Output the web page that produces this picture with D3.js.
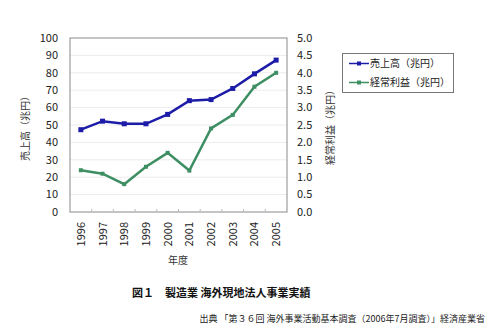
<!DOCTYPE html>
<html><head><meta charset="utf-8">
<script src="https://cdn.jsdelivr.net/npm/d3@7"></script>
<style>body{margin:0;background:#fff}svg{display:block}</style>
</head><body><svg id="c" width="500" height="330"></svg>
<script>
const years = ["1996","1997","1998","1999","2000","2001","2002","2003","2004","2005"];
const sales = [47.3, 52.2, 50.7, 50.7, 56.1, 64.0, 64.6, 71.0, 79.4, 87.3];
const profit = [1.20, 1.10, 0.80, 1.30, 1.70, 1.19, 2.40, 2.79, 3.60, 4.00];
const leftTicks = [0,10,20,30,40,50,60,70,80,90,100];
const rightTicks = [0,0.5,1,1.5,2,2.5,3,3.5,4,4.5,5];
const seriesNames = ["売上高（兆円）","経常利益（兆円）"];

const font = "'Noto Sans CJK JP', sans-serif";
const svg = d3.select("#c");
const L=70, R=287, T=38, B=212;
const x = d3.scalePoint().domain(years).range([L,R]).padding(0.5);
const yL = d3.scaleLinear().domain([0,100]).range([B,T]);
const yR = d3.scaleLinear().domain([0,5]).range([B,T]);

// grid
svg.append("g").selectAll("line").data(leftTicks.slice(1,-1)).join("line")
  .attr("x1",L).attr("x2",R).attr("y1",d=>yL(d)).attr("y2",d=>yL(d))
  .attr("stroke","#ececec").attr("stroke-width",1);
// frame
svg.append("rect").attr("x",L).attr("y",T).attr("width",R-L).attr("height",B-T)
  .attr("fill","none").attr("stroke","#8a8a8a").attr("stroke-width",1);
// x ticks at category boundaries, inward
const step = x.step();
svg.append("g").selectAll("line").data(d3.range(1,years.length)).join("line")
  .attr("x1",i=>L+i*step).attr("x2",i=>L+i*step).attr("y1",B).attr("y2",B-3)
  .attr("stroke","#bbb");

// left axis labels
svg.append("g").selectAll("text").data(leftTicks).join("text")
  .attr("x",L-12).attr("y",d=>yL(d)).attr("dy","0.35em").attr("text-anchor","end")
  .attr("font-family",font).attr("font-size",11).attr("fill","#222").text(d=>d);
svg.append("g").selectAll("text").data(rightTicks).join("text")
  .attr("x",R+10).attr("y",d=>yR(d)).attr("dy","0.35em").attr("text-anchor","start")
  .attr("font-family",font).attr("font-size",11).attr("fill","#222").text(d=>d.toFixed(1));
// x labels rotated
svg.append("g").selectAll("text").data(years).join("text")
  .attr("transform",d=>`translate(${x(d)+4},${B+10}) rotate(-90)`)
  .attr("text-anchor","end").attr("font-family",font).attr("font-size",11).attr("fill","#222").text(d=>d);
// axis titles
svg.append("text").attr("transform",`translate(29,126) rotate(-90)`).attr("text-anchor","middle")
  .attr("font-family",font).attr("font-size",10).attr("fill","#333").text(seriesNames[0]);
svg.append("text").attr("transform",`translate(334,125) rotate(-90)`).attr("text-anchor","middle")
  .attr("font-family",font).attr("font-size",10).attr("fill","#333").text(seriesNames[1]);
svg.append("text").attr("x",178).attr("y",264).attr("text-anchor","middle")
  .attr("font-family",font).attr("font-size",10).attr("fill","#333").text("年度");

// lines
const colors = ["#1c1ca8","#3d8f63"];
const blueLine = d3.line().x((d,i)=>x(years[i])).y(d=>yL(d));
const greenLine = d3.line().x((d,i)=>x(years[i])).y(d=>yR(d));
svg.append("path").attr("d",greenLine(profit)).attr("fill","none").attr("stroke",colors[1]).attr("stroke-width",2.5);
svg.append("g").selectAll("rect").data(profit).join("rect")
  .attr("x",(d,i)=>x(years[i])-2).attr("y",d=>yR(d)-2).attr("width",4).attr("height",4).attr("fill",colors[1]);
svg.append("path").attr("d",blueLine(sales)).attr("fill","none").attr("stroke",colors[0]).attr("stroke-width",2.5);
svg.append("g").selectAll("rect").data(sales).join("rect")
  .attr("x",(d,i)=>x(years[i])-2.5).attr("y",d=>yL(d)-2.5).attr("width",5).attr("height",5).attr("fill",colors[0]);

// legend
const lg = svg.append("g");
lg.append("rect").attr("x",342.5).attr("y",53.5).attr("width",111).attr("height",39)
  .attr("fill","#fff").attr("stroke","#777").attr("stroke-width",1);
seriesNames.forEach((n,i)=>{
  const yy = 63.5 + i*19;
  lg.append("line").attr("x1",349).attr("x2",369).attr("y1",yy).attr("y2",yy).attr("stroke",colors[i]).attr("stroke-width",1.5);
  lg.append("rect").attr("x",357).attr("y",yy-2).attr("width",4).attr("height",4).attr("fill",colors[i]);
  lg.append("text").attr("x",370).attr("y",yy).attr("dy","0.35em").attr("font-family",font)
    .attr("font-size",10).attr("fill","#222").text(n);
});

// titles
svg.append("text").attr("x",132).attr("y",297).attr("font-family",font).attr("font-size",11)
  .attr("font-weight","bold").attr("fill","#111").text("図１　製造業 海外現地法人事業実績");
svg.append("text").attr("x",485).attr("y",322).attr("text-anchor","end").attr("font-family",font).attr("font-size",9)
  .attr("fill","#222").text("出典 「第３６回 海外事業活動基本調査（2006年7月調査）」経済産業省");
</script></body></html>
